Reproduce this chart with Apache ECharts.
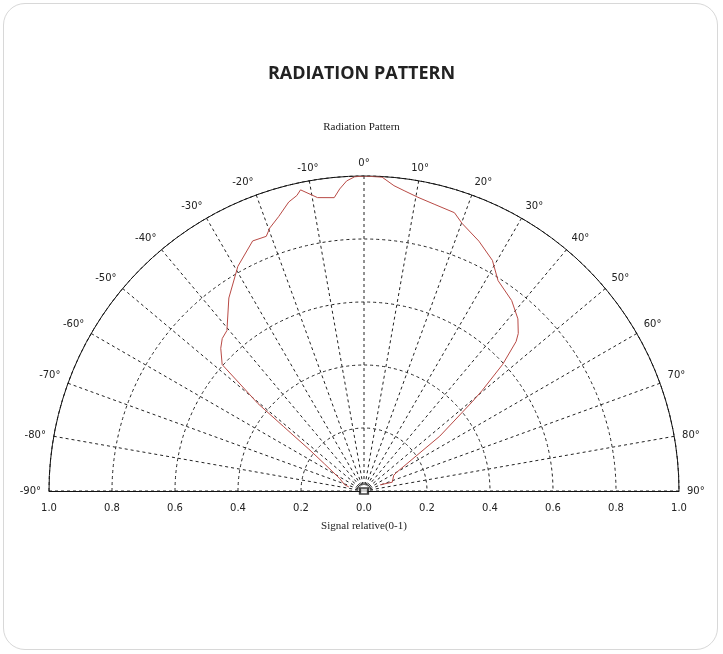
<!DOCTYPE html>
<html>
<head>
<meta charset="utf-8">
<script src="https://cdn.jsdelivr.net/npm/echarts@6/dist/echarts.min.js"></script>
<style>
  html, body { margin: 0; padding: 0; background: #fff; }
  #card {
    position: absolute; left: 3px; top: 3px; width: 715px; height: 647px;
    border: 1px solid #d8d8d8; border-radius: 22px; box-sizing: border-box;
  }
  #chart { position: absolute; left: 0; top: 0; width: 723px; height: 654px; }
</style>
</head>
<body>
<div id="card"></div>
<div id="chart"></div>
<script>
// 放射パターン (角度 deg, 相対信号 0-1)
const angleDeg = [-75, -72, -62.8, -55.5, -52.8, -51.3, -50.5, -49.2, -48.3, -45.1,
  -42.9, -40.5, -35, -29.3, -24, -21, -19.7, -17.3, -14.6, -12.8,
  -11.9, -9, -5.8, -4.6, -3.2, -1.7, 0, 3.3, 5.6, 7.6,
  10.4, 13.9, 18, 20.1, 24.7, 29.1, 32.5, 37.8, 41.8, 44.4,
  45.5, 47.6, 49.6, 50.5, 54.1, 60, 62, 72.7, 69];
const signal = [0.05, 0.065, 0.087, 0.153, 0.22, 0.328, 0.436, 0.52, 0.603, 0.642,
  0.661, 0.67, 0.748, 0.818, 0.869, 0.866, 0.887, 0.912, 0.948, 0.962,
  0.977, 0.943, 0.936, 0.962, 0.986, 0.998, 1.0, 0.998, 0.974, 0.962,
  0.948, 0.937, 0.929, 0.905, 0.873, 0.838, 0.792, 0.765, 0.733, 0.70,
  0.677, 0.596, 0.493, 0.445, 0.297, 0.122, 0.107, 0.094, 0.055];
const centerMarker = [[0, 0]];

const chart = echarts.init(document.getElementById('chart'));

const tickFont = { color: '#222', fontSize: 10, fontFamily: 'DejaVu Sans' };
const dashed = { color: '#222', width: 1, type: [3, 3] };

let option = {
  backgroundColor: 'transparent',
  animation: false,
  title: [
    {
      text: 'RADIATION PATTERN',
      left: 'center',
      top: 60,
      textStyle: { fontFamily: 'Open Sans', fontWeight: 'bold', fontSize: 18, color: '#222' }
    },
    {
      text: 'Radiation Pattern',
      left: 'center',
      top: 117,
      textStyle: { fontFamily: 'Liberation Serif', fontWeight: 'normal', fontSize: 11, color: '#222' }
    }
  ],
  polar: { center: [364, 491], radius: 315 },
  angleAxis: {
    type: 'value',
    min: -90,
    max: 90,
    interval: 10,
    startAngle: 180,
    endAngle: 0,
    clockwise: true,
    axisLine: { lineStyle: { color: '#111', width: 1 } },
    axisTick: { show: false },
    axisLabel: { ...tickFont, margin: 8, formatter: v => v + '°' },
    splitLine: { show: true, lineStyle: dashed }
  },
  radiusAxis: {
    type: 'value',
    min: 0,
    max: 1,
    interval: 0.2,
    axisLine: { show: false },
    axisTick: { show: false },
    axisLabel: { show: false },
    splitLine: { show: true, lineStyle: dashed }
  },
  // 下のベースライン (両側 0-1 表示)
  grid: { left: 49, width: 630, top: 471, height: 20 },
  xAxis: {
    type: 'value',
    min: -1,
    max: 1,
    interval: 0.2,
    position: 'bottom',
    axisLine: { lineStyle: { color: '#111', width: 1 } },
    axisTick: { show: false },
    splitLine: { show: false },
    axisLabel: { ...tickFont, margin: 12, formatter: v => Math.abs(v).toFixed(1) },
    name: 'Signal relative(0-1)',
    nameLocation: 'middle',
    nameGap: 30,
    nameTextStyle: { fontFamily: 'Liberation Serif', fontSize: 11, color: '#222' }
  },
  yAxis: { type: 'value', show: false, min: 0, max: 1 },
  series: [
    {
      name: 'Pattern',
      type: 'line',
      coordinateSystem: 'polar',
      data: angleDeg.map((a, i) => [signal[i], a]),
      symbol: 'none',
      lineStyle: { color: '#b84a45', width: 1 }
    },
    {
      name: 'Center',
      type: 'scatter',
      coordinateSystem: 'polar',
      data: centerMarker,
      symbol: 'rect',
      symbolSize: [8, 6],
      itemStyle: { color: '#fff', borderColor: '#111', borderWidth: 2 }
    }
  ]
};

chart.setOption(option);
</script>
</body>
</html>
